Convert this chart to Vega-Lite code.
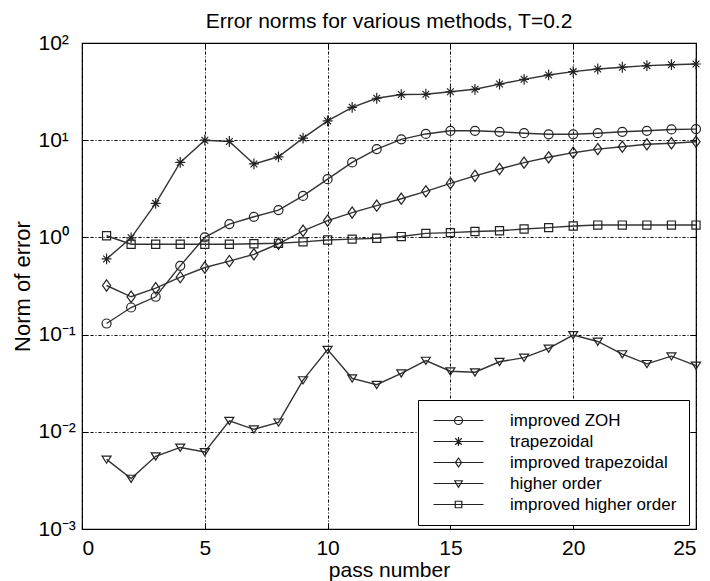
{
  "$schema": "https://vega.github.io/schema/vega-lite/v6.json",
  "width": 614,
  "height": 486,
  "autosize": "none",
  "padding": {"left": 82, "top": 43, "right": 14, "bottom": 52},
  "background": "white",
  "config": {
    "font": "Liberation Sans",
    "view": {"stroke": "black", "strokeWidth": 1.2},
    "axis": {"labelFont": "Liberation Sans", "titleFont": "Liberation Sans", "labelColor": "black", "titleColor": "black", "titleFontWeight": "normal", "domain": false, "tickColor": "black"}
  },
  "title": {"text": "Error norms for various methods, T=0.2", "fontSize": 21, "fontWeight": "normal", "color": "black", "anchor": "middle", "baseline": "alphabetic", "offset": -17, "font": "Liberation Sans"},
  "data": {"values": [
    {"pass":1,"method":"improved ZOH","err":0.13},{"pass":2,"method":"improved ZOH","err":0.19},{"pass":3,"method":"improved ZOH","err":0.245},{"pass":4,"method":"improved ZOH","err":0.51},{"pass":5,"method":"improved ZOH","err":1.0},{"pass":6,"method":"improved ZOH","err":1.37},{"pass":7,"method":"improved ZOH","err":1.63},{"pass":8,"method":"improved ZOH","err":1.91},{"pass":9,"method":"improved ZOH","err":2.67},{"pass":10,"method":"improved ZOH","err":3.97},{"pass":11,"method":"improved ZOH","err":5.9},{"pass":12,"method":"improved ZOH","err":8.1},{"pass":13,"method":"improved ZOH","err":10.2},{"pass":14,"method":"improved ZOH","err":11.6},{"pass":15,"method":"improved ZOH","err":12.5},{"pass":16,"method":"improved ZOH","err":12.5},{"pass":17,"method":"improved ZOH","err":12.2},{"pass":18,"method":"improved ZOH","err":11.8},{"pass":19,"method":"improved ZOH","err":11.5},{"pass":20,"method":"improved ZOH","err":11.5},{"pass":21,"method":"improved ZOH","err":11.8},{"pass":22,"method":"improved ZOH","err":12.2},{"pass":23,"method":"improved ZOH","err":12.5},{"pass":24,"method":"improved ZOH","err":12.9},{"pass":25,"method":"improved ZOH","err":13.0},
    {"pass":1,"method":"trapezoidal","err":0.6},{"pass":2,"method":"trapezoidal","err":0.99},{"pass":3,"method":"trapezoidal","err":2.24},{"pass":4,"method":"trapezoidal","err":5.9},{"pass":5,"method":"trapezoidal","err":10.0},{"pass":6,"method":"trapezoidal","err":9.7},{"pass":7,"method":"trapezoidal","err":5.7},{"pass":8,"method":"trapezoidal","err":6.75},{"pass":9,"method":"trapezoidal","err":10.5},{"pass":10,"method":"trapezoidal","err":15.8},{"pass":11,"method":"trapezoidal","err":21.8},{"pass":12,"method":"trapezoidal","err":27},{"pass":13,"method":"trapezoidal","err":29.5},{"pass":14,"method":"trapezoidal","err":29.7},{"pass":15,"method":"trapezoidal","err":31.5},{"pass":16,"method":"trapezoidal","err":33.4},{"pass":17,"method":"trapezoidal","err":37.8},{"pass":18,"method":"trapezoidal","err":42.3},{"pass":19,"method":"trapezoidal","err":46.9},{"pass":20,"method":"trapezoidal","err":50.7},{"pass":21,"method":"trapezoidal","err":54},{"pass":22,"method":"trapezoidal","err":56.3},{"pass":23,"method":"trapezoidal","err":58.5},{"pass":24,"method":"trapezoidal","err":59.8},{"pass":25,"method":"trapezoidal","err":60.8},
    {"pass":1,"method":"improved trapezoidal","err":0.32},{"pass":2,"method":"improved trapezoidal","err":0.245},{"pass":3,"method":"improved trapezoidal","err":0.3},{"pass":4,"method":"improved trapezoidal","err":0.39},{"pass":5,"method":"improved trapezoidal","err":0.49},{"pass":6,"method":"improved trapezoidal","err":0.57},{"pass":7,"method":"improved trapezoidal","err":0.67},{"pass":8,"method":"improved trapezoidal","err":0.86},{"pass":9,"method":"improved trapezoidal","err":1.17},{"pass":10,"method":"improved trapezoidal","err":1.49},{"pass":11,"method":"improved trapezoidal","err":1.8},{"pass":12,"method":"improved trapezoidal","err":2.12},{"pass":13,"method":"improved trapezoidal","err":2.5},{"pass":14,"method":"improved trapezoidal","err":2.98},{"pass":15,"method":"improved trapezoidal","err":3.6},{"pass":16,"method":"improved trapezoidal","err":4.3},{"pass":17,"method":"improved trapezoidal","err":5.06},{"pass":18,"method":"improved trapezoidal","err":5.87},{"pass":19,"method":"improved trapezoidal","err":6.67},{"pass":20,"method":"improved trapezoidal","err":7.44},{"pass":21,"method":"improved trapezoidal","err":8.1},{"pass":22,"method":"improved trapezoidal","err":8.57},{"pass":23,"method":"improved trapezoidal","err":9.07},{"pass":24,"method":"improved trapezoidal","err":9.3},{"pass":25,"method":"improved trapezoidal","err":9.65},
    {"pass":1,"method":"higher order","err":0.0052},{"pass":2,"method":"higher order","err":0.0033},{"pass":3,"method":"higher order","err":0.0056},{"pass":4,"method":"higher order","err":0.0069},{"pass":5,"method":"higher order","err":0.0062},{"pass":6,"method":"higher order","err":0.013},{"pass":7,"method":"higher order","err":0.0106},{"pass":8,"method":"higher order","err":0.0125},{"pass":9,"method":"higher order","err":0.034},{"pass":10,"method":"higher order","err":0.07},{"pass":11,"method":"higher order","err":0.0355},{"pass":12,"method":"higher order","err":0.0305},{"pass":13,"method":"higher order","err":0.04},{"pass":14,"method":"higher order","err":0.054},{"pass":15,"method":"higher order","err":0.042},{"pass":16,"method":"higher order","err":0.041},{"pass":17,"method":"higher order","err":0.0525},{"pass":18,"method":"higher order","err":0.058},{"pass":19,"method":"higher order","err":0.072},{"pass":20,"method":"higher order","err":0.099},{"pass":21,"method":"higher order","err":0.085},{"pass":22,"method":"higher order","err":0.063},{"pass":23,"method":"higher order","err":0.05},{"pass":24,"method":"higher order","err":0.06},{"pass":25,"method":"higher order","err":0.048},
    {"pass":1,"method":"improved higher order","err":1.04},{"pass":2,"method":"improved higher order","err":0.85},{"pass":3,"method":"improved higher order","err":0.85},{"pass":4,"method":"improved higher order","err":0.85},{"pass":5,"method":"improved higher order","err":0.85},{"pass":6,"method":"improved higher order","err":0.85},{"pass":7,"method":"improved higher order","err":0.86},{"pass":8,"method":"improved higher order","err":0.87},{"pass":9,"method":"improved higher order","err":0.9},{"pass":10,"method":"improved higher order","err":0.94},{"pass":11,"method":"improved higher order","err":0.96},{"pass":12,"method":"improved higher order","err":0.98},{"pass":13,"method":"improved higher order","err":1.02},{"pass":14,"method":"improved higher order","err":1.1},{"pass":15,"method":"improved higher order","err":1.12},{"pass":16,"method":"improved higher order","err":1.15},{"pass":17,"method":"improved higher order","err":1.17},{"pass":18,"method":"improved higher order","err":1.22},{"pass":19,"method":"improved higher order","err":1.26},{"pass":20,"method":"improved higher order","err":1.31},{"pass":21,"method":"improved higher order","err":1.34},{"pass":22,"method":"improved higher order","err":1.34},{"pass":23,"method":"improved higher order","err":1.34},{"pass":24,"method":"improved higher order","err":1.34},{"pass":25,"method":"improved higher order","err":1.34}
  ]},
  "layer": [
    {
      "mark": {"type": "line", "stroke": "#333", "strokeWidth": 1.4},
      "encoding": {
        "x": {"field": "pass", "type": "quantitative", "scale": {"domain": [0, 25], "nice": false},
          "axis": {"orient": "bottom", "values": [0,5,10,15,20,25], "grid": true, "gridColor": "black", "gridOpacity": 1, "gridDash": [3,2,1,2], "gridWidth": 1, "tickSize": -6, "labelPadding": 14, "labelFontSize": 21, "title": "pass number", "titleFontSize": 21, "titlePadding": 1}},
        "y": {"field": "err", "type": "quantitative", "scale": {"type": "log", "domain": [0.001, 100], "nice": false},
          "axis": {"orient": "left", "values": [0.001,0.01,0.1,1,10,100], "grid": true, "gridColor": "black", "gridOpacity": 1, "gridDash": [3,2,1,2], "gridWidth": 1, "tickSize": -6, "labelPadding": 50, "labelAlign": "left", "labelFontSize": 21,
            "labelExpr": "datum.value >= 50 ? '10²' : datum.value >= 5 ? '10¹' : datum.value >= 0.5 ? '10⁰' : datum.value >= 0.05 ? '10⁻¹' : datum.value >= 0.005 ? '10⁻²' : '10⁻³'",
            "title": "Norm of error", "titleFontSize": 22, "titlePadding": 4}},
        "detail": {"field": "method"}
      }
    },
    {
      "mark": {"type": "point", "filled": false, "stroke": "#222", "strokeWidth": 1.2, "size": 81, "opacity": 1},
      "encoding": {
        "x": {"field": "pass", "type": "quantitative", "axis": {"orient": "top", "values": [0,5,10,15,20,25], "labels": false, "grid": false, "tickSize": -6, "title": null}},
        "y": {"field": "err", "type": "quantitative", "axis": {"orient": "right", "values": [0.001,0.01,0.1,1,10,100], "labels": false, "grid": false, "tickSize": -6, "title": null}},
        "shape": {"field": "method", "type": "nominal",
          "scale": {"domain": ["trapezoidal", "improved ZOH", "improved trapezoidal", "higher order", "improved higher order"],
            "range": ["M-1.1,0H1.1M0,-1.2V1.2M-0.75,-0.75L0.75,0.75M-0.75,0.75L0.75,-0.75", "circle", "M0,-1.25L0.9,0L0,1.25L-0.9,0Z", "M-1,-0.75H1L0,0.85Z", "M-0.9,-0.9H0.9V0.9H-0.9Z"]},
          "legend": null
        }
      }
    },
    {
      "mark": {"type": "point", "filled": false, "stroke": "#222", "strokeWidth": 1.2, "opacity": 0},
      "encoding": {
        "x": {"field": "pass", "type": "quantitative", "axis": null},
        "y": {"field": "err", "type": "quantitative", "axis": null},
        "shape": {"field": "method", "type": "nominal",
          "scale": {"domain": ["improved ZOH", "trapezoidal", "improved trapezoidal", "higher order", "improved higher order"],
            "range": ["M-1,0H9M3.2,0A0.8,0.8 0 1,1 4.8,0A0.8,0.8 0 1,1 3.2,0Z", "M-1,0H9M4,-0.9V0.9M3.35,-0.65L4.65,0.65M3.35,0.65L4.65,-0.65", "M-1,0H9M4,-0.9L4.6,0L4,0.9L3.4,0Z", "M-1,0H9M3.25,-0.55H4.75L4,0.75Z", "M-1,0H9M3.35,-0.65H4.65V0.65H3.35Z"]},
          "legend": {"title": null, "orient": "none", "legendX": 336, "legendY": 357, "padding": 12, "strokeColor": "black", "fillColor": "white", "symbolSize": 100, "symbolOpacity": 1, "symbolStrokeColor": "#222", "symbolStrokeWidth": 1.2, "symbolFillColor": "transparent", "labelOffset": 63, "labelFontSize": 17, "labelLimit": 400, "labelColor": "black", "labelFont": "Liberation Sans", "rowPadding": 3}
        }
      }
    }
  ],
  "resolve": {"axis": {"x": "independent", "y": "independent"}, "scale": {"shape": "independent"}}
}
